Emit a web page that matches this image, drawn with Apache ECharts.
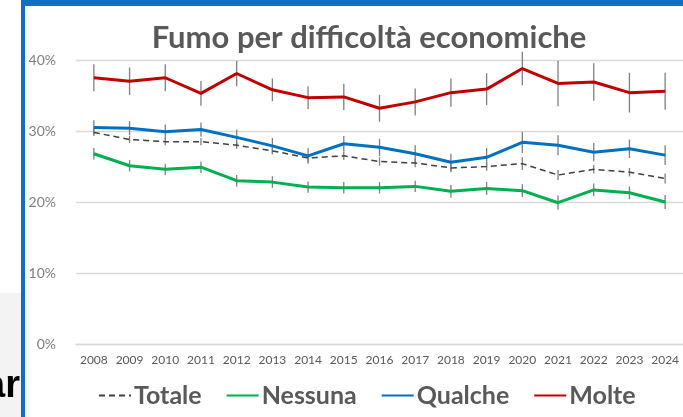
<!DOCTYPE html>
<html>
<head>
<meta charset="utf-8">
<script src="https://cdn.jsdelivr.net/npm/echarts@6/dist/echarts.min.js"></script>
<style>
  html, body { margin: 0; padding: 0; background: #fff; }
  #main { width: 683px; height: 417px; }
</style>
</head>
<body>
<div id="main"></div>
<script>
// anni e valori (%)
var anni = ['2008', '2009', '2010', '2011', '2012', '2013', '2014', '2015', '2016',
            '2017', '2018', '2019', '2020', '2021', '2022', '2023', '2024'];
var totale  = [29.8, 28.8, 28.5, 28.5, 28.0, 27.2, 26.2, 26.5, 25.7, 25.5, 24.8, 25.0, 25.4, 23.8, 24.6, 24.2, 23.3];
var nessuna = [26.8, 25.1, 24.6, 24.9, 23.0, 22.8, 22.1, 22.0, 22.0, 22.2, 21.5, 21.9, 21.6, 19.9, 21.7, 21.3, 20.0];
var qualche = [30.5, 30.4, 29.9, 30.2, 29.1, 27.9, 26.5, 28.2, 27.7, 26.8, 25.6, 26.3, 28.4, 28.0, 27.0, 27.5, 26.6];
var molte   = [37.5, 37.0, 37.5, 35.3, 38.1, 35.8, 34.7, 34.8, 33.2, 34.1, 35.4, 35.9, 38.8, 36.7, 36.9, 35.4, 35.6];
// semi-ampiezza degli intervalli di confidenza
var totaleErr  = [0.5, 0.5, 0.5, 0.5, 0.5, 0.5, 0.6, 0.6, 0.6, 0.6, 0.6, 0.6, 0.9, 0.7, 0.6, 0.6, 0.7];
var nessunaErr = [0.8, 0.8, 0.8, 0.8, 0.8, 0.8, 0.8, 0.8, 0.8, 0.8, 0.9, 0.9, 0.9, 1.0, 0.9, 0.9, 1.0];
var qualcheErr = [1.0, 1.0, 1.0, 1.0, 1.1, 1.1, 1.1, 1.1, 1.2, 1.2, 1.2, 1.3, 1.5, 1.4, 1.3, 1.3, 1.4];
var molteErr   = [1.9, 1.95, 1.9, 1.75, 1.8, 1.6, 1.6, 1.85, 1.9, 1.9, 2.0, 2.25, 2.35, 3.2, 2.65, 2.8, 2.6];
var tickY = [0, 10, 20, 30, 40];

var chart = echarts.init(document.getElementById('main'));

function errData(vals, errs) {
  return vals.map(function (v, i) { return [i, v - errs[i], v + errs[i]]; });
}

function errSeries(vals, errs) {
  return {
    type: 'custom',
    silent: true,
    z: 1,
    data: errData(vals, errs),
    renderItem: function (params, api) {
      var lo = api.coord([api.value(0), api.value(1)]);
      var hi = api.coord([api.value(0), api.value(2)]);
      return {
        type: 'line',
        shape: { x1: lo[0], y1: lo[1], x2: hi[0], y2: hi[1] },
        style: { stroke: '#7f7f7f', lineWidth: 1.3 }
      };
    }
  };
}

function lineSeries(name, vals, color, width, dashed) {
  return {
    name: name,
    type: 'line',
    data: vals,
    symbol: 'none',
    z: 3,
    lineStyle: { color: color, width: width, type: dashed ? [6, 4] : 'solid' },
    itemStyle: { color: color }
  };
}

var option = {
  backgroundColor: '#ffffff',
  animation: false,
  title: {
    text: 'Fumo per difficoltà economiche',
    left: 364,
    top: 17,
    textAlign: 'center',
    textStyle: { color: '#595959', fontFamily: 'Lato', fontWeight: 'bold', fontSize: 31 }
  },
  legend: {
    data: ['Totale', 'Nessuna', 'Qualche', 'Molte'],
    left: 93,
    top: 378,
    itemWidth: 32,
    itemHeight: 4,
    itemGap: 24,
    itemStyle: { opacity: 0 },
    textStyle: { color: '#595959', fontFamily: 'Lato', fontWeight: 'bold', fontSize: 25, padding: [0, 0, 0, -2] }
  },
  grid: { left: 76, top: 60, width: 615, bottom: 73 },
  xAxis: {
    type: 'category',
    data: anni,
    boundaryGap: true,
    axisLine: { lineStyle: { color: '#d9d9d9', width: 1.3 } },
    axisTick: { show: false },
    axisLabel: { color: '#595959', fontFamily: 'Lato', fontSize: 12, margin: 10, interval: 0 }
  },
  yAxis: {
    type: 'value',
    min: 0,
    max: 40,
    interval: 10,
    axisLine: { show: false },
    axisTick: { show: false },
    splitLine: { lineStyle: { color: '#d9d9d9', width: 1.3 } },
    axisLabel: {
      color: '#7f7f7f', fontFamily: 'Lato', fontSize: 14, margin: 20,
      formatter: function (v) { return tickY.indexOf(v) >= 0 ? v + '%' : ''; }
    }
  },
  graphic: [
    { type: 'rect', shape: { x: 0, y: 293, width: 21, height: 124 }, style: { fill: '#f3f3f3' }, z: 10 },
    { type: 'text', x: 20, y: 406, style: { text: 'ar', fill: '#000', font: 'bold 38px "Liberation Sans"', align: 'right', verticalAlign: 'bottom' }, z: 11 },
    { type: 'rect', shape: { x: 21, y: 0, width: 4, height: 417 }, style: { fill: '#0f6fc6' }, z: 12 },
    { type: 'rect', shape: { x: 21, y: 0, width: 662, height: 6 }, style: { fill: '#0f6fc6' }, z: 12 }
  ],
  series: [
    errSeries(totale, totaleErr),
    errSeries(nessuna, nessunaErr),
    errSeries(qualche, qualcheErr),
    errSeries(molte, molteErr),
    lineSeries('Totale', totale, '#404040', 1.5, true),
    lineSeries('Nessuna', nessuna, '#00b050', 3, false),
    lineSeries('Qualche', qualche, '#0070c0', 3, false),
    lineSeries('Molte', molte, '#c00000', 3, false)
  ]
};

chart.setOption(option);
</script>
</body>
</html>
